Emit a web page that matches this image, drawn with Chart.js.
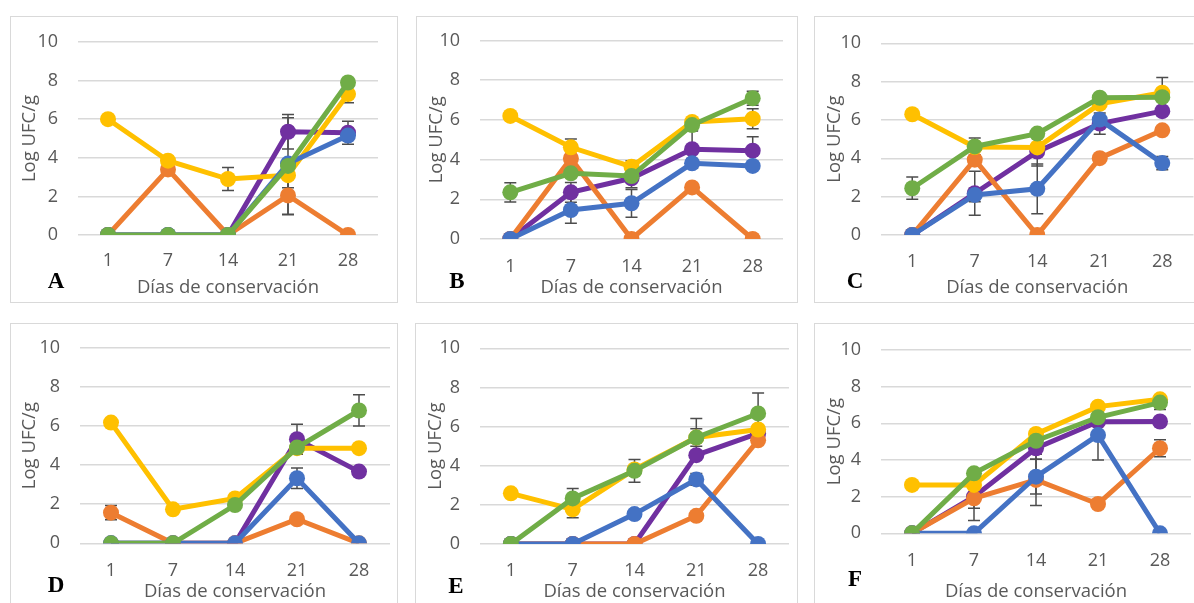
<!DOCTYPE html>
<html lang="es">
  <head>
    <meta charset="UTF-8" />
    <title>Log UFC/g</title>
    <script src="https://cdn.jsdelivr.net/npm/chart.js@4.4.1/dist/chart.umd.min.js"></script>
    <style>
      body { margin: 0; width: 1194px; height: 603px; overflow: hidden; background: #fff; }
      .panel { position: absolute; border: 1px solid #d9d9d9; box-sizing: border-box; }
      .panel canvas { display: block; }
      .letra { position: absolute; font: bold 23px "Liberation Serif", serif; color: #000; line-height: 1; transform: translate(-50%, -50%); }
    </style>
  </head>
  <body>
    <script>
      const dias = ["1", "7", "14", "21", "28"];

      // valores (Log UFC/g) por panel
      const amarilloA = [6.0, 3.85, 2.9, 3.1, 7.3];
      const naranjaA = [0, 3.4, 0, 2.05, 0];
      const moradoA = [0, 0, 0, 5.35, 5.3];
      const azulA = [0, 0, 0, 3.7, 5.15];
      const verdeA = [0, 0, 0, 3.58, 7.9];

      const amarilloB = [6.2, 4.62, 3.64, 5.9, 6.06];
      const naranjaB = [0, 4.06, 0, 2.6, 0];
      const moradoB = [0, 2.35, 3.06, 4.52, 4.45];
      const azulB = [0, 1.46, 1.8, 3.81, 3.68];
      const verdeB = [2.35, 3.31, 3.17, 5.74, 7.09];

      const amarilloC = [6.3, 4.59, 4.57, 6.84, 7.42];
      const naranjaC = [0, 3.93, 0, 4.01, 5.46];
      const moradoC = [0, 2.18, 4.35, 5.81, 6.46];
      const azulC = [0, 2.09, 2.41, 6.02, 3.75];
      const verdeC = [2.44, 4.62, 5.29, 7.16, 7.19];

      const amarilloD = [6.18, 1.74, 2.3, 4.87, 4.87];
      const naranjaD = [1.57, 0, 0, 1.23, 0];
      const moradoD = [0, 0, 0, 5.33, 3.67];
      const azulD = [0, 0, 0, 3.33, 0];
      const verdeD = [0, 0, 1.96, 4.9, 6.8];

      const amarilloE = [2.59, 1.77, 3.81, 5.44, 5.85];
      const naranjaE = [0, 0, 0, 1.44, 5.3];
      const moradoE = [0, 0, 0, 4.54, 5.65];
      const azulE = [0, 0, 1.53, 3.3, 0];
      const verdeE = [0, 2.33, 3.74, 5.44, 6.67];

      const amarilloF = [2.64, 2.64, 5.42, 6.91, 7.31];
      const naranjaF = [0, 1.91, 2.91, 1.6, 4.64];
      const moradoF = [0, 2.0, 4.64, 6.09, 6.1];
      const azulF = [0, 0, 3.09, 5.36, 0];
      const verdeF = [0, 3.27, 5.05, 6.33, 7.13];

      // desviaciones (barras de error)
      const amarilloErrA = [0, 0, 0.6, 0.65, 0.45];
      const naranjaErrA = [0, 0, 0, 1.0, 0];
      const moradoErrA = [0, 0, 0, 0.9, 0.6];
      const azulErrA = [0, 0, 0, 0, 0];
      const verdeErrA = [0, 0, 0, 2.5, 0];

      const amarilloErrB = [0, 0.42, 0.3, 0, 0.5];
      const naranjaErrB = [0, 0, 0, 0, 0];
      const moradoErrB = [0, 0.5, 0.48, 0.95, 0.7];
      const azulErrB = [0, 0.67, 0.7, 0.25, 0];
      const verdeErrB = [0.48, 0, 0, 0.3, 0.35];

      const amarilloErrC = [0, 0, 0, 0, 0.8];
      const naranjaErrC = [0, 0, 0, 0, 0];
      const moradoErrC = [0, 1.15, 0.75, 0.55, 0];
      const azulErrC = [0, 0.35, 1.3, 0, 0.35];
      const verdeErrC = [0.58, 0.44, 0, 0, 0];

      const amarilloErrD = [0, 0, 0.2, 0, 0.2];
      const naranjaErrD = [0.37, 0, 0, 0.2, 0];
      const moradoErrD = [0, 0, 0, 0.77, 0];
      const azulErrD = [0, 0, 0, 0.53, 0];
      const verdeErrD = [0, 0, 0, 0, 0.8];

      const amarilloErrE = [0, 0.43, 0, 0.45, 0];
      const naranjaErrE = [0, 0, 0, 0, 0];
      const moradoErrE = [0, 0, 0, 0, 0];
      const azulErrE = [0, 0, 0, 0.3, 0];
      const verdeErrE = [0, 0.5, 0.58, 0.97, 1.05];

      const amarilloErrF = [0, 0, 0, 0, 0];
      const naranjaErrF = [0, 0.55, 1.4, 0, 0.46];
      const moradoErrF = [0, 1.3, 0.6, 0, 0];
      const azulErrF = [0, 0, 0.95, 1.36, 0];
      const verdeErrF = [0, 0, 0, 0, 0.37];

      const colores = {
        verde: "#70AD47",
        azul: "#4472C4",
        amarillo: "#FFC000",
        naranja: "#ED7D31",
        morado: "#7030A0",
      };
      const gris = "#595959";
      const fuente = "'Open Sans', sans-serif";

      // barras de error dibujadas detrás de las líneas
      const barrasError = {
        id: "barrasError",
        beforeDatasetsDraw(chart) {
          const ctx = chart.ctx;
          const y = chart.scales.y;
          ctx.save();
          ctx.strokeStyle = "#4d4d4d";
          ctx.lineWidth = 1.5;
          chart.data.datasets.forEach((ds, i) => {
            const meta = chart.getDatasetMeta(i);
            ds.errores.forEach((e, j) => {
              if (!e) return;
              const px = meta.data[j].x;
              const top = y.getPixelForValue(ds.data[j] + e);
              const bot = y.getPixelForValue(ds.data[j] - e);
              ctx.beginPath();
              ctx.moveTo(px, top);
              ctx.lineTo(px, bot);
              ctx.moveTo(px - 6, top);
              ctx.lineTo(px + 6, top);
              ctx.moveTo(px - 6, bot);
              ctx.lineTo(px + 6, bot);
              ctx.stroke();
            });
          });
          ctx.restore();
        },
      };

      function panel(p) {
        const caja = document.createElement("div");
        caja.className = "panel";
        caja.style.left = p.box[0] + "px";
        caja.style.top = p.box[1] + "px";
        caja.style.width = p.box[2] + "px";
        caja.style.height = p.box[3] + "px";
        const cv = document.createElement("canvas");
        const cw = p.box[2] - 2;
        const ch = p.box[3] - 2;
        cv.width = cw;
        cv.height = ch;
        caja.appendChild(cv);
        document.body.appendChild(caja);

        const letra = document.createElement("div");
        letra.className = "letra";
        letra.textContent = p.letra;
        letra.style.left = p.letraPos[0] + "px";
        letra.style.top = p.letraPos[1] + "px";
        document.body.appendChild(letra);

        const ox = p.box[0] + 1;
        const oy = p.box[1] + 1;
        const izq = p.plot[0] - ox;
        const der = p.plot[1] - ox;
        const arriba = p.plot[2] - oy;
        const abajo = p.plot[3] - oy;
        const tamTit = 18.5;
        const lhTit = tamTit * 1.2;
        const xH = p.xTitleY - p.plot[3] + lhTit / 2;

        const datasets = ["verde", "azul", "amarillo", "naranja", "morado"].map((k, i) => ({
          label: k,
          data: p.series[i],
          errores: p.errores[i],
          borderColor: colores[k],
          backgroundColor: colores[k],
          borderWidth: 5,
          pointRadius: 8,
          pointHoverRadius: 8,
          pointBorderWidth: 0,
          tension: 0,
        }));

        new Chart(cv, {
          type: "line",
          data: { labels: dias, datasets },
          options: {
            responsive: false,
            animation: false,
            events: [],
            layout: {
              autoPadding: false,
              padding: { left: 0, top: arriba, right: cw - der, bottom: ch - abajo - xH },
            },
            plugins: { legend: { display: false }, tooltip: { enabled: false } },
            scales: {
              x: {
                offset: true,
                grid: { display: false, drawTicks: false },
                border: { display: false },
                ticks: { color: gris, font: { family: fuente, size: 18 }, padding: p.xLabelY - p.plot[3] - 11.5 },
                title: {
                  display: true,
                  text: "Días de conservación",
                  color: gris,
                  font: { family: fuente, size: tamTit, lineHeight: 1.2 },
                  padding: 0,
                },
                afterFit(s) { s.height = xH; },
              },
              y: {
                min: 0,
                max: 10,
                ticks: { stepSize: 2, color: gris, font: { family: fuente, size: 18 }, padding: 6 },
                grid: { color: "#d9d9d9", lineWidth: 1.5, drawTicks: true, tickLength: 14, tickColor: "rgba(0,0,0,0)" },
                border: { display: false },
                title: {
                  display: true,
                  text: "Log UFC/g",
                  color: gris,
                  font: { family: fuente, size: tamTit, lineHeight: 1.2 },
                  padding: { top: p.yTitleX - ox - lhTit / 2, bottom: 0 },
                },
                afterFit(s) { s.width = izq; },
              },
            },
          },
          plugins: [barrasError],
        });
      }

      panel({
        letra: "A", letraPos: [56, 280], box: [10, 16, 388, 287], plot: [78, 378, 42, 235],
        xLabelY: 262, xTitleY: 288, yTitleX: 30,
        series: [verdeA, azulA, amarilloA, naranjaA, moradoA],
        errores: [verdeErrA, azulErrA, amarilloErrA, naranjaErrA, moradoErrA],
      });
      panel({
        letra: "B", letraPos: [457, 280], box: [416, 16, 382, 287], plot: [480, 783, 40.5, 239],
        xLabelY: 268, xTitleY: 288, yTitleX: 437,
        series: [verdeB, azulB, amarilloB, naranjaB, moradoB],
        errores: [verdeErrB, azulErrB, amarilloErrB, naranjaErrB, moradoErrB],
      });
      panel({
        letra: "C", letraPos: [855, 280], box: [814, 16, 384, 287], plot: [881, 1193.5, 43.3, 235],
        xLabelY: 263, xTitleY: 288, yTitleX: 835,
        series: [verdeC, azulC, amarilloC, naranjaC, moradoC],
        errores: [verdeErrC, azulErrC, amarilloErrC, naranjaErrC, moradoErrC],
      });
      panel({
        letra: "D", letraPos: [56, 584], box: [10, 323, 388, 284], plot: [80, 390, 348, 543.3],
        xLabelY: 572, xTitleY: 592, yTitleX: 30,
        series: [verdeD, azulD, amarilloD, naranjaD, moradoD],
        errores: [verdeErrD, azulErrD, amarilloErrD, naranjaErrD, moradoErrD],
      });
      panel({
        letra: "E", letraPos: [456, 585], box: [415, 323, 383, 284], plot: [480, 789, 348.3, 544],
        xLabelY: 572, xTitleY: 592, yTitleX: 436,
        series: [verdeE, azulE, amarilloE, naranjaE, moradoE],
        errores: [verdeErrE, azulErrE, amarilloErrE, naranjaErrE, moradoErrE],
      });
      panel({
        letra: "F", letraPos: [855, 578], box: [814, 323, 384, 284], plot: [881, 1191, 350, 533.3],
        xLabelY: 562, xTitleY: 592, yTitleX: 835,
        series: [verdeF, azulF, amarilloF, naranjaF, moradoF],
        errores: [verdeErrF, azulErrF, amarilloErrF, naranjaErrF, moradoErrF],
      });
    </script>
  </body>
</html>
